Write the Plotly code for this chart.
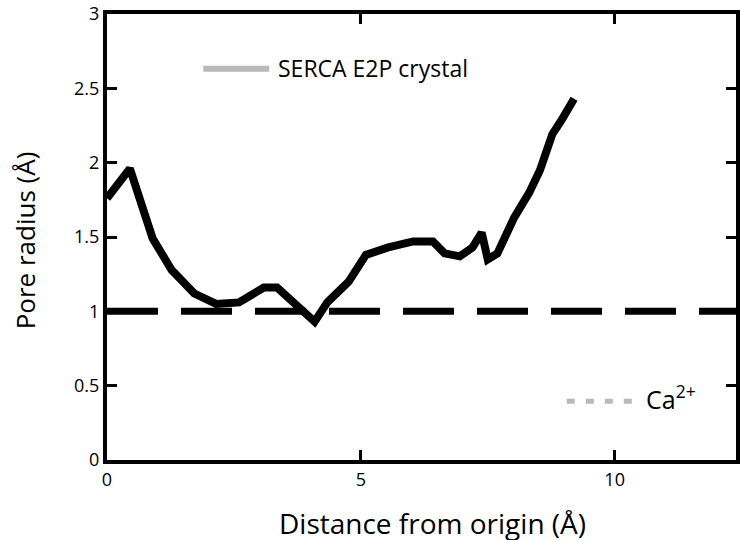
import plotly.graph_objects as go

# Data
distance = [0, 0.45, 0.9, 1.27, 1.72, 2.15, 2.6, 3.09, 3.35, 4.09, 4.34, 4.76, 5.1, 5.54,
            6.03, 6.42, 6.65, 6.95, 7.2, 7.38, 7.5, 7.69, 8.02, 8.32, 8.53, 8.77, 8.96, 9.2]
pore_radius = [1.76, 1.96, 1.49, 1.28, 1.12, 1.05, 1.06, 1.16, 1.16, 0.93, 1.06, 1.2, 1.38, 1.43,
               1.47, 1.47, 1.39, 1.37, 1.43, 1.53, 1.35, 1.39, 1.63, 1.8, 1.95, 2.19, 2.29, 2.43]
ca_radius = 1.0
x_range = [0, 12.39]
y_range = [0, 3]
series_name = "SERCA E2P crystal"
ref_name = "Ca<sup>2+</sup>"
x_title = "Distance from origin (Å)"
y_title = "Pore radius (Å)"
x_ticks = [0, 5, 10]
y_ticks = [0, 0.5, 1, 1.5, 2, 2.5, 3]

FONT = "Open Sans"

fig = go.Figure()
fig.add_trace(go.Scatter(x=distance, y=pore_radius, mode="lines",
                         line=dict(color="black", width=8), showlegend=False))
fig.add_trace(go.Scatter(x=x_range, y=[ca_radius, ca_radius], mode="lines",
                         line=dict(color="black", width=7, dash="51px,23px"), showlegend=False))

# legend samples and texts (paper coordinates)
fig.add_shape(type="line", xref="paper", yref="paper", x0=0.153, x1=0.258, y0=0.877, y1=0.877,
              line=dict(color="#1a1a1a", width=6))
fig.add_annotation(xref="paper", yref="paper", x=0.268, y=0.879, text=series_name,
                   showarrow=False, xanchor="left", yanchor="middle",
                   font=dict(family=FONT, size=23, color="black"))
fig.add_shape(type="line", xref="paper", yref="paper", x0=0.731, x1=0.837, y0=0.132, y1=0.132,
              line=dict(color="#1a1a1a", width=5, dash="8px,11px"))
fig.add_annotation(xref="paper", yref="paper", x=0.853, y=0.14, text=ref_name,
                   showarrow=False, xanchor="left", yanchor="middle",
                   font=dict(family=FONT, size=25, color="black"))

# axis titles
fig.add_annotation(xref="paper", yref="paper", x=0.518, y=-0.141, text=x_title,
                   showarrow=False, xanchor="center", yanchor="middle",
                   font=dict(family=FONT, size=28, color="black"))
fig.add_annotation(xref="paper", yref="paper", x=-0.13, y=0.493, text=y_title, textangle=-90,
                   showarrow=False, xanchor="center", yanchor="middle",
                   font=dict(family=FONT, size=26, color="black"))

fig.update_layout(width=740, height=540, margin=dict(l=107, r=0, t=14, b=80),
                  plot_bgcolor="white", template="simple_white")
fig.update_xaxes(range=x_range, tickvals=x_ticks, showline=True, linecolor="black", linewidth=4,
                 ticks="inside", ticklen=10, tickwidth=3, tickcolor="black", mirror="ticks",
                 tickfont=dict(family=FONT, size=18, color="black"))
fig.update_yaxes(range=y_range, tickvals=y_ticks, showline=True, linecolor="black", linewidth=4,
                 ticks="inside", ticklen=10, tickwidth=3, tickcolor="black", mirror="ticks",
                 tickfont=dict(family=FONT, size=18, color="black"))
fig.write_html("out.html")
